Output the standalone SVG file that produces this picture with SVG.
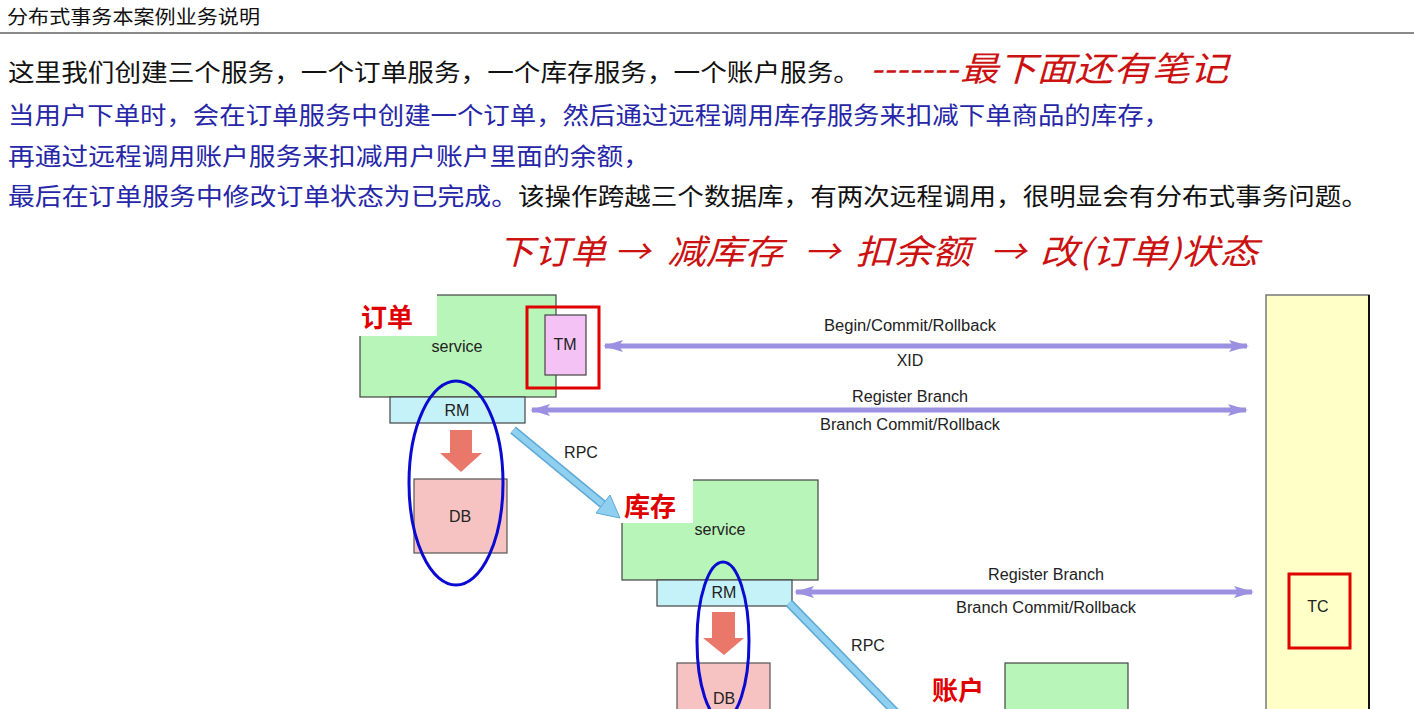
<svg xmlns="http://www.w3.org/2000/svg" width="1414" height="709" viewBox="0 0 1414 709">
<style>
.cn{font-family:"Noto Sans CJK SC","Liberation Serif",serif;}
.title{font-size:19px;fill:#111;}
.body{font-size:24px;}
.blk{fill:#111;}
.blu{fill:#2626a8;}
.note{font-size:34px;fill:#cc1111;font-style:italic;}
.lbl{font-family:"Liberation Sans",Arial,sans-serif;font-size:16px;fill:#222;text-anchor:middle;}
.tag{font-family:"Noto Sans CJK SC",sans-serif;font-weight:bold;font-size:26px;fill:#e00000;}
.svc{fill:#b8f5b8;stroke:#444;stroke-width:1.2;}
.rm{fill:#c4f2f8;stroke:#444;stroke-width:1.2;}
.db{fill:#f6c2c2;stroke:#555;stroke-width:1.2;}
.ell{fill:none;stroke:#0a0ad0;stroke-width:3;}
.redbox{fill:none;stroke:#e00000;stroke-width:3;}
.purple{stroke:#9c90e2;stroke-width:5;fill:none;marker-start:url(#ph);marker-end:url(#ph);}
.dbarrow{fill:#e9776a;}
</style>
<defs>
<marker id="ph" viewBox="0 0 20 12" refX="18" refY="6" markerWidth="20" markerHeight="12" markerUnits="userSpaceOnUse" orient="auto-start-reverse">
<path d="M0,0 L20,6 L0,12 L4,6 Z" fill="#9c90e2"/>
</marker>
</defs>
<rect width="1414" height="709" fill="#ffffff"/>

<g id="header">
<text class="cn title" x="7" y="24" textLength="253" lengthAdjust="spacingAndGlyphs">分布式事务本案例业务说明</text>
<line x1="0" y1="33" x2="1414" y2="33" stroke="#8a8a8a" stroke-width="2"/>
</g>

<g id="text-lines">
<text class="cn body blk" x="8" y="81" textLength="852" lengthAdjust="spacingAndGlyphs">这里我们创建三个服务，一个订单服务，一个库存服务，一个账户服务。</text>
<text class="cn note" x="870" y="81" textLength="88" lengthAdjust="spacingAndGlyphs">-------</text>
<text class="cn note" x="960" y="81" textLength="268" lengthAdjust="spacingAndGlyphs">最下面还有笔记</text>
<text class="cn body blu" x="8" y="124" textLength="1162" lengthAdjust="spacingAndGlyphs">当用户下单时，会在订单服务中创建一个订单，然后通过远程调用库存服务来扣减下单商品的库存，</text>
<text class="cn body blu" x="8" y="165" textLength="642" lengthAdjust="spacingAndGlyphs">再通过远程调用账户服务来扣减用户账户里面的余额，</text>
<text class="cn body blu" x="8" y="205" textLength="510" lengthAdjust="spacingAndGlyphs">最后在订单服务中修改订单状态为已完成。</text>
<text class="cn body blk" x="518" y="205" textLength="850" lengthAdjust="spacingAndGlyphs">该操作跨越三个数据库，有两次远程调用，很明显会有分布式事务问题。</text>
</g>

<g id="flow-note">
<text class="cn note" x="498" y="264" textLength="108" lengthAdjust="spacingAndGlyphs">下订单</text>
<text class="cn note" x="614" y="264" textLength="36" lengthAdjust="spacingAndGlyphs">→</text>
<text class="cn note" x="667" y="264" textLength="116" lengthAdjust="spacingAndGlyphs">减库存</text>
<text class="cn note" x="804" y="264" textLength="36" lengthAdjust="spacingAndGlyphs">→</text>
<text class="cn note" x="855" y="264" textLength="116" lengthAdjust="spacingAndGlyphs">扣余额</text>
<text class="cn note" x="990" y="264" textLength="36" lengthAdjust="spacingAndGlyphs">→</text>
<text class="cn note" x="1040" y="264" textLength="218" lengthAdjust="spacingAndGlyphs">改(订单)状态</text>
</g>

<g id="tc-column">
<rect x="1266" y="295" width="103" height="430" fill="#ffffc8" stroke="#777" stroke-width="1.5"/>
<line x1="1369" y1="295" x2="1369" y2="709" stroke="#111" stroke-width="2"/>
</g>
<g id="tc">
<rect x="1289" y="574" width="61" height="74" fill="none" stroke="#222" stroke-width="1"/>
<rect class="redbox" x="1289" y="574" width="61" height="74"/>
<text class="lbl" x="1318" y="612">TC</text>
</g>

<g id="order-service">
<rect class="svc" x="360" y="295" width="196" height="102"/>
<rect x="359" y="294" width="78" height="42" fill="#ffffff"/>
<text class="tag" x="361" y="327">订单</text>
<text class="lbl" x="457" y="352" textLength="51" lengthAdjust="spacingAndGlyphs">service</text>
</g>
<g id="tm">
<rect x="545" y="315" width="41" height="60" fill="#f5c2f5" stroke="#444" stroke-width="1.2"/>
<text class="lbl" x="565" y="350">TM</text>
<rect class="redbox" x="527" y="307" width="72" height="81"/>
</g>
<g id="order-rm">
<rect class="rm" x="390" y="397" width="135" height="26"/>
<text class="lbl" x="457" y="416">RM</text>
</g>
<g id="order-db">
<path class="dbarrow" d="M450,430 L472,430 L472,453 L482,453 L461,472 L440,453 L450,453 Z"/>
<rect class="db" x="414" y="479" width="93" height="74"/>
<text class="lbl" x="460" y="522">DB</text>
<ellipse class="ell" cx="456" cy="483" rx="47" ry="102"/>
</g>

<g id="stock-service">
<rect class="svc" x="622" y="480" width="196" height="100"/>
<rect x="621" y="479" width="72" height="44" fill="#ffffff"/>
<text class="tag" x="624" y="516">库存</text>
<text class="lbl" x="720" y="535" textLength="51" lengthAdjust="spacingAndGlyphs">service</text>
</g>
<g id="stock-rm">
<rect class="rm" x="657" y="580" width="135" height="26"/>
<text class="lbl" x="724" y="598">RM</text>
</g>
<g id="stock-db">
<path class="dbarrow" d="M712,612 L735,612 L735,638 L744,638 L724,655 L703,638 L712,638 Z"/>
<rect class="db" x="677" y="663" width="93" height="60"/>
<text class="lbl" x="724" y="704">DB</text>
<ellipse class="ell" cx="723" cy="641" rx="26" ry="79"/>
</g>

<g id="account-service">
<text class="tag" x="932" y="700">账户</text>
<rect class="svc" x="1005" y="663" width="123" height="60"/>
</g>

<g id="connectors">
<line class="purple" x1="605" y1="346" x2="1247" y2="346"/>
<text class="lbl" x="910" y="331" textLength="172" lengthAdjust="spacingAndGlyphs">Begin/Commit/Rollback</text>
<text class="lbl" x="910" y="366">XID</text>
<line class="purple" x1="532" y1="410" x2="1246" y2="410"/>
<text class="lbl" x="910" y="402" textLength="116" lengthAdjust="spacingAndGlyphs">Register Branch</text>
<text class="lbl" x="910" y="430" textLength="180" lengthAdjust="spacingAndGlyphs">Branch Commit/Rollback</text>
<line class="purple" x1="796" y1="592" x2="1252" y2="592"/>
<text class="lbl" x="1046" y="580" textLength="116" lengthAdjust="spacingAndGlyphs">Register Branch</text>
<text class="lbl" x="1046" y="613" textLength="180" lengthAdjust="spacingAndGlyphs">Branch Commit/Rollback</text>

<g id="rpc1">
<line x1="513" y1="430" x2="605" y2="506" stroke="#5fa9d6" stroke-width="9"/>
<line x1="513" y1="430" x2="605" y2="506" stroke="#8fd0f0" stroke-width="6"/>
<polygon points="620,518 596,513 610,495" fill="#8fd0f0" stroke="#5fa9d6" stroke-width="1"/>
<text class="lbl" x="581" y="458">RPC</text>
</g>
<g id="rpc2">
<line x1="789" y1="603" x2="905" y2="722" stroke="#5fa9d6" stroke-width="9"/>
<line x1="789" y1="603" x2="905" y2="722" stroke="#8fd0f0" stroke-width="6"/>
<text class="lbl" x="868" y="651">RPC</text>
</g>
</g>
</svg>
